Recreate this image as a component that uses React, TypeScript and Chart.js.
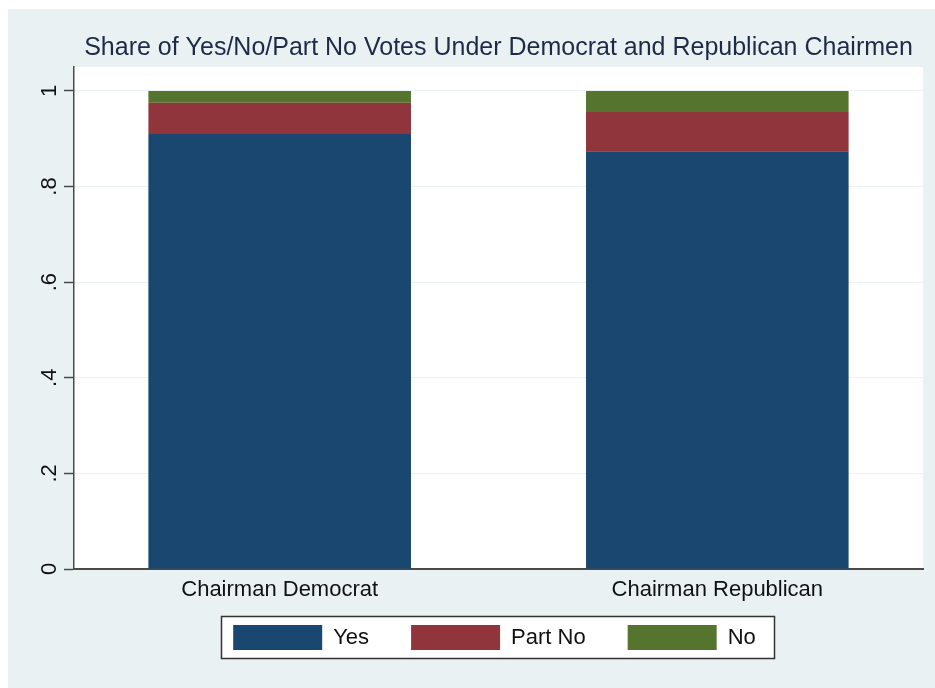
import React, { useEffect, useRef } from "react";
import { Chart, registerables } from "chart.js";

Chart.register(...registerables);

// ---- data ----
const categories = ["Chairman Democrat", "Chairman Republican"];
const seriesNames = ["Yes", "Part No", "No"];
const yesShare = [0.91, 0.874];
const partNoShare = [0.065, 0.082];
const noShare = [0.025, 0.044];
const yTickValues = [0, 0.2, 0.4, 0.6, 0.8, 1];
const yTickLabels = ["0", ".2", ".4", ".6", ".8", "1"];
const chartTitle = "Share of Yes/No/Part No Votes Under Democrat and Republican Chairmen";

// ---- styles ----
const seriesColors = ["#1A476F", "#90353B", "#55752F"];
const FONT = '"Liberation Sans", Arial, Helvetica, sans-serif';
const BG = "#E9F1F3";
const AXIS = "#4a4a4a";
const LEGEND_PAD = 42;

const stataFrame = {
  id: "stataFrame",
  beforeDraw(chart: any) {
    const ctx = chart.ctx as CanvasRenderingContext2D;
    const { width, height } = chart;
    const area = chart.chartArea;
    ctx.save();
    ctx.fillStyle = "#ffffff";
    ctx.fillRect(0, 0, width, height);
    ctx.fillStyle = BG;
    ctx.fillRect(8, 9, width - 8, height - 9);
    ctx.fillStyle = "#ffffff";
    ctx.fillRect(area.left, area.top, area.right - area.left, area.bottom - area.top);

    // center title over the plot region
    const t = chart.titleBlock;
    if (t) {
      t.left = area.left;
      t.right = area.right;
    }
    // place legend inside its framed box
    const lg = chart.legend;
    if (lg) {
      const cx = (area.left + area.right) / 2 - 4;
      lg.left = cx - 450;
      lg.right = cx + 450;
      lg.width = 900;
      lg.top = 625 - LEGEND_PAD;
      lg.bottom = lg.top + lg.height;
    }
    // legend frame
    ctx.fillStyle = "#ffffff";
    ctx.fillRect(221.5, 616.5, 553, 42);
    ctx.strokeStyle = "#333333";
    ctx.lineWidth = 1.5;
    ctx.strokeRect(221.5, 616.5, 553, 42);
    ctx.restore();
  },
};

export default function App() {
  const ref = useRef<HTMLCanvasElement>(null);

  useEffect(() => {
    if (!ref.current) return;
    const seriesValues = [yesShare, partNoShare, noShare];
    const chart = new Chart(ref.current, {
      type: "bar",
      data: {
        datasets: seriesNames.map((name, s) => ({
          label: name,
          data: seriesValues[s].map((v, i) => ({ x: i, y: v })),
          backgroundColor: seriesColors[s],
          borderWidth: 0,
          barPercentage: 0.6,
          categoryPercentage: 1,
        })),
      },
      options: {
        responsive: false,
        animation: false,
        devicePixelRatio: 1,
        layout: { padding: { top: 9, left: 8, right: 12, bottom: 0 } },
        plugins: {
          title: {
            display: true,
            text: chartTitle,
            color: "#1E2B47",
            font: { family: FONT, size: 25, weight: "normal" },
            padding: { top: 24, bottom: 4 },
          },
          legend: {
            position: "bottom",
            labels: {
              boxWidth: 89,
              boxHeight: 25,
              padding: LEGEND_PAD,
              color: "#111111",
              font: { family: FONT, size: 22 },
            },
          },
          tooltip: { enabled: false },
        },
        scales: {
          x: {
            type: "linear",
            stacked: true,
            offset: false,
            min: -0.47,
            max: 1.47,
            afterBuildTicks: (scale: any) => {
              scale.ticks = categories.map((_, i) => ({ value: i }));
            },
            afterFit: (scale: any) => {
              scale.height = 42;
            },
            grid: { display: false, drawTicks: false, offset: false },
            border: { display: true, color: AXIS, width: 2 },
            ticks: {
              autoSkip: false,
              padding: 8,
              color: "#111111",
              font: { family: FONT, size: 22 },
              callback: (v: any) => categories[Math.round(Number(v))] ?? "",
            },
          },
          y: {
            stacked: true,
            min: 0,
            max: 1.05,
            afterBuildTicks: (scale: any) => {
              scale.ticks = yTickValues.map((v) => ({ value: v }));
            },
            afterFit: (scale: any) => {
              scale.width = 66;
            },
            grid: {
              color: BG,
              lineWidth: 1,
              tickLength: 10,
              tickColor: AXIS,
              tickWidth: 1.5,
            },
            border: { display: true, color: AXIS, width: 1.5 },
            ticks: {
              autoSkip: false,
              minRotation: 90,
              maxRotation: 90,
              crossAlign: "center",
              padding: 5,
              color: "#111111",
              font: { family: FONT, size: 22 },
              callback: (_v: any, i: number) => yTickLabels[i] ?? "",
            },
          },
        },
      } as any,
      plugins: [stataFrame],
    });
    return () => chart.destroy();
  }, []);

  return (
    <div style={{ position: "absolute", left: 0, top: 0, width: 935, height: 688 }}>
      <canvas ref={ref} width={935} height={688} style={{ display: "block" }} />
    </div>
  );
}
